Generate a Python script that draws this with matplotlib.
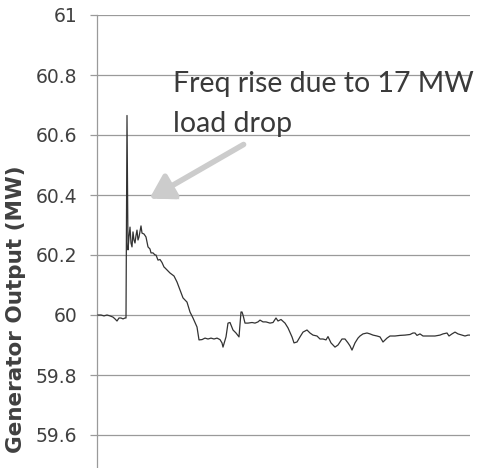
import numpy as np
import matplotlib
matplotlib.use("Agg")
from matplotlib import pyplot
from matplotlib import patheffects

# sample time (s) and generator output (MW)
t_sec = [1, 4, 7, 10, 13, 16, 18, 20, 22, 24, 26, 28, 29, 30, 31, 32, 33, 34, 35,
         36, 37, 38, 39, 40, 41, 42, 44, 45, 47, 49, 51, 53, 54, 56, 58, 59, 61,
         63, 65, 67, 68, 70, 73, 75, 77, 80, 83, 86, 88, 90, 93, 96, 98, 100, 102,
         105, 108, 111, 114, 117, 120, 123, 125, 126, 129, 131, 133, 136, 139, 142,
         144, 145, 146, 148, 151, 155, 158, 161, 163, 166, 169, 173, 176, 179, 181,
         184, 188, 191, 195, 197, 200, 203, 206, 210, 213, 216, 220, 223, 226, 229,
         231, 234, 238, 241, 245, 248, 251, 253, 255, 258, 261, 263, 266, 270, 273,
         276, 280, 283, 286, 290, 293, 298, 303, 308, 313, 316, 318, 320, 323, 326,
         331, 338, 343, 346, 350, 352, 355, 358, 361, 365, 368, 371, 373]
gen_mw = [60.00, 60.00, 59.997, 60.00, 59.997, 59.993, 59.987, 59.98, 59.99, 59.99,
          59.987, 59.99, 59.99, 60.665, 60.217, 60.26, 60.293, 60.24, 60.227, 60.277,
          60.25, 60.24, 60.265, 60.283, 60.25, 60.26, 60.297, 60.273, 60.27, 60.26,
          60.227, 60.22, 60.207, 60.207, 60.20, 60.20, 60.183, 60.185, 60.175, 60.16,
          60.157, 60.15, 60.14, 60.135, 60.13, 60.11, 60.083, 60.057, 60.05, 60.043,
          60.01, 59.99, 59.975, 59.96, 59.917, 59.918, 59.923, 59.92, 59.923, 59.92,
          59.923, 59.918, 59.907, 59.893, 59.927, 59.973, 59.975, 59.95, 59.94, 59.927,
          60.01, 60.01, 60.00, 59.973, 59.973, 59.975, 59.973, 59.977, 59.983, 59.977,
          59.977, 59.973, 59.975, 59.99, 59.98, 59.985, 59.973, 59.957, 59.927, 59.907,
          59.91, 59.927, 59.943, 59.95, 59.94, 59.933, 59.93, 59.92, 59.92, 59.917,
          59.928, 59.907, 59.893, 59.90, 59.92, 59.92, 59.907, 59.897, 59.883, 59.907,
          59.923, 59.93, 59.937, 59.94, 59.937, 59.933, 59.93, 59.927, 59.91, 59.923,
          59.93, 59.93, 59.932, 59.933, 59.935, 59.94, 59.94, 59.932, 59.937, 59.93,
          59.93, 59.93, 59.933, 59.937, 59.94, 59.93, 59.937, 59.943, 59.937, 59.933,
          59.93, 59.933, 59.933]

y_ticks = [59.6, 59.8, 60, 60.2, 60.4, 60.6, 60.8, 61]
y_tick_labels = ["59.6", "59.8", "60", "60.2", "60.4", "60.6", "60.8", "61"]

note_lines = ["Freq rise due to 17 MW", "load drop"]


def make_graph():
    fig = pyplot.figure(figsize=(4.81, 4.68), dpi=100)
    ax = fig.add_axes([97 / 481, 0.0, (470 - 97) / 481, 1 - 15 / 468])

    grid_c = "#9a9a9a"
    text_c = "#404040"

    ax.plot(t_sec, gen_mw, color="#333333", lw=0.9, zorder=3)

    ax.set_xlim(0, 373)
    ax.set_ylim(61 - 453 / 300, 61)
    ax.set_yticks(y_ticks)
    ax.set_yticklabels(y_tick_labels)
    ax.set_xticks([])
    ax.yaxis.grid(True, color=grid_c, lw=0.9)
    ax.set_axisbelow(True)

    for side in ["top", "right", "bottom"]:
        ax.spines[side].set_visible(False)
    ax.spines["left"].set_color(grid_c)
    ax.spines["left"].set_linewidth(0.9)
    ax.tick_params(axis="y", direction="out", length=5, width=0.9, color=grid_c,
                   pad=9, labelsize=13.5, labelcolor=text_c)

    ax.set_ylabel("Generator Output (MW)", fontsize=15.5, fontweight="bold",
                  color=text_c)
    ax.yaxis.set_label_coords(-0.19, 0.35)

    # note text, one line at a time
    ax.text(76, 60.743, note_lines[0], fontsize=20.5, family="Lato",
            color="#3a3a3a", va="baseline", ha="left", zorder=5)
    ax.text(76, 60.61, note_lines[1], fontsize=20.5, family="Lato",
            color="#3a3a3a", va="baseline", ha="left", zorder=5)

    # arrow pointing at the spike
    ax.annotate("", xy=(50, 60.383), xytext=(149, 60.573),
                arrowprops=dict(arrowstyle="-|>,head_length=1.0,head_width=0.6",
                                lw=4, color="#cccccc", mutation_scale=14,
                                path_effects=[patheffects.SimplePatchShadow(offset=(2, -2), alpha=0.25),
                                              patheffects.Normal()]),
                zorder=4)

    fig.savefig("out.png", dpi=100)


if __name__ == "__main__":
    make_graph()
